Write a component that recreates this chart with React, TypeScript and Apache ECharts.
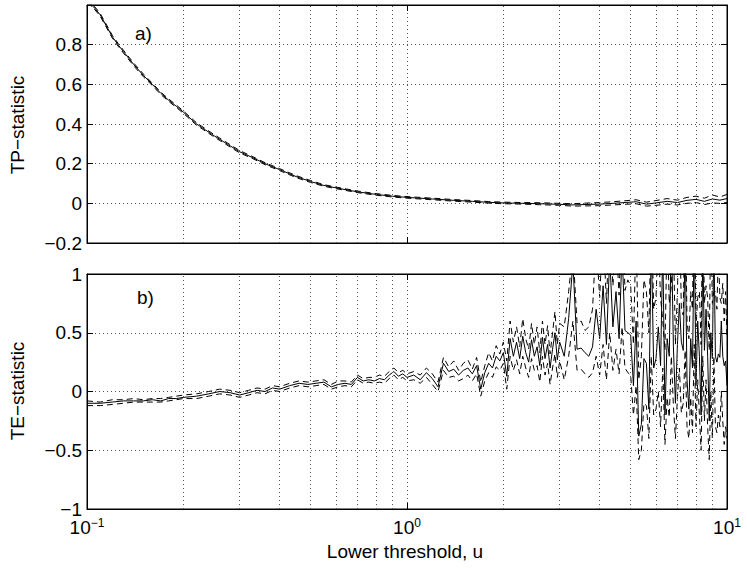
import React, { useEffect, useRef } from "react";
import * as echarts from "echarts";

// ---- Panel a) TP-statistic ----
const tpU = [
  0.10, 0.105, 0.11, 0.12, 0.125, 0.13, 0.14, 0.15, 0.16, 0.17,
  0.18, 0.19, 0.20, 0.22, 0.25, 0.28, 0.30, 0.33, 0.36, 0.40,
  0.45, 0.50, 0.55, 0.60, 0.70, 0.80, 0.90, 1.0, 1.2, 1.4,
  1.6, 1.8, 2.0, 2.3, 2.6, 3.0, 3.3, 3.6, 4.0, 4.4,
  4.8, 5.2, 5.6, 6.0, 6.5, 7.0, 7.5, 8.0, 8.5, 9.0,
  9.5, 10.0,
];
const tpMid = [
  1.02, 0.99, 0.95, 0.84, 0.80, 0.765, 0.70, 0.645, 0.60, 0.555,
  0.52, 0.49, 0.46, 0.40, 0.34, 0.29, 0.26, 0.23, 0.20, 0.17,
  0.135, 0.11, 0.09, 0.078, 0.058, 0.045, 0.036, 0.03, 0.022, 0.015,
  0.01, 0.005, 0.002, 0.0, -0.002, -0.005, -0.008, -0.006, -0.004, 0.0,
  0.004, 0.008, -0.004, 0.002, 0.01, 0.004, 0.015, 0.02, 0.01, 0.022,
  0.016, 0.024,
];
const tpHi = [
  1.028, 0.997, 0.957, 0.847, 0.807, 0.772, 0.707, 0.652, 0.606, 0.561,
  0.526, 0.496, 0.466, 0.406, 0.346, 0.296, 0.266, 0.235, 0.205, 0.175,
  0.14, 0.115, 0.094, 0.082, 0.062, 0.049, 0.04, 0.034, 0.026, 0.019,
  0.014, 0.009, 0.006, 0.004, 0.003, 0.0, -0.002, 0.001, 0.004, 0.008,
  0.013, 0.018, 0.006, 0.014, 0.024, 0.016, 0.03, 0.036, 0.026, 0.042,
  0.032, 0.045,
];
const tpLo = [
  1.012, 0.983, 0.943, 0.833, 0.793, 0.758, 0.693, 0.638, 0.594, 0.549,
  0.514, 0.484, 0.454, 0.394, 0.334, 0.284, 0.254, 0.225, 0.195, 0.165,
  0.13, 0.105, 0.086, 0.074, 0.054, 0.041, 0.032, 0.026, 0.018, 0.011,
  0.006, 0.001, -0.002, -0.004, -0.007, -0.01, -0.014, -0.013, -0.012, -0.008,
  -0.005, -0.002, -0.014, -0.01, -0.004, -0.008, 0.0, 0.004, -0.006, 0.002,
  0.0, 0.004,
];

// ---- Panel b) TE-statistic ----
const teU = [
  0.10, 0.11, 0.12, 0.13, 0.14, 0.15, 0.16, 0.17, 0.18, 0.19, 0.20,
  0.22, 0.24, 0.26, 0.28, 0.30, 0.32, 0.34, 0.36, 0.38, 0.40,
  0.43, 0.46, 0.49, 0.52, 0.55, 0.58, 0.61, 0.64, 0.67, 0.70,
  0.73, 0.76, 0.79, 0.82, 0.85, 0.88, 0.91, 0.94, 0.97, 1.00,
  1.05, 1.1, 1.15, 1.2, 1.25, 1.3, 1.35, 1.4, 1.45, 1.5,
  1.55, 1.6, 1.65, 1.7, 1.75, 1.8, 1.85, 1.9, 1.95, 2.0,
  2.05, 2.1, 2.15, 2.2, 2.25, 2.3, 2.35, 2.4, 2.45, 2.5,
  2.55, 2.6, 2.65, 2.7, 2.75, 2.8, 2.85, 2.9, 2.95, 3.0,
  3.1, 3.2, 3.3, 3.4, 3.5, 3.6, 3.7, 3.8, 3.9, 4.0,
  4.1, 4.2, 4.3, 4.4, 4.5, 4.6, 4.7, 4.8, 4.9, 5.0,
  5.1, 5.2, 5.3, 5.4, 5.5, 5.6, 5.7, 5.8, 5.9, 6.0,
  6.1, 6.2, 6.3, 6.4, 6.5, 6.6, 6.7, 6.8, 6.9, 7.0,
  7.1, 7.2, 7.3, 7.4, 7.5, 7.6, 7.7, 7.8, 7.9, 8.0,
  8.1, 8.2, 8.3, 8.4, 8.5, 8.6, 8.7, 8.8, 8.9, 9.0,
  9.1, 9.2, 9.3, 9.4, 9.5, 9.6, 9.7, 9.8, 9.9, 10.0,
];
const teMid = [
  -0.10, -0.10, -0.09, -0.08, -0.08, -0.08, -0.07, -0.08, -0.06, -0.06, -0.05,
  -0.04, -0.02, 0.00, -0.01, -0.03, -0.01, 0.01, 0.00, 0.03, 0.02,
  0.05, 0.07, 0.06, 0.07, 0.08, 0.04, 0.06, 0.07, 0.06, 0.12,
  0.09, 0.10, 0.09, 0.11, 0.10, 0.14, 0.17, 0.13, 0.15, 0.12,
  0.14, 0.10, 0.16, 0.11, 0.04, 0.24, 0.17, 0.19, 0.14, 0.18,
  0.20, 0.15, 0.22, 0.02, 0.16, 0.24, 0.20, 0.30, 0.26, 0.33,
  0.13, 0.45, 0.30, 0.42, 0.28, 0.47, 0.33, 0.25, 0.44, 0.30,
  0.38, 0.22, 0.46, 0.28, 0.40, 0.20, 0.36, 0.50, 0.27, 0.42,
  0.30, 0.62, 1.10, 0.36, 0.37, 0.33, 0.30, 0.38, 0.70, 0.45,
  0.90, 0.40, 1.15, 0.55, 0.85, 0.45, 1.20, 0.52, 0.50, 0.48,
  0.05, 0.60, -0.38, -0.28, 0.28, 0.24, -0.15, 1.30, 0.20, 0.28,
  0.55, 0.22, 1.25, -0.20, 0.45, 0.30, 1.40, 0.38, -0.10, 0.40,
  0.75, 0.42, 0.35, 1.30, 0.10, -0.15, 0.45, 0.20, 1.40, 0.05,
  0.60, 0.30, -0.20, 1.25, 0.35, 0.70, 0.30, -0.25, 0.50, 0.28,
  1.30, 0.30, 0.25, 0.32, 0.29, 0.60, 0.30, 0.22, 0.26, 0.05,
];
const teHi = [
  -0.08, -0.09, -0.07, -0.07, -0.06, -0.07, -0.06, -0.06, -0.05, -0.04, -0.03,
  -0.02, 0.00, 0.02, 0.01, -0.01, 0.01, 0.03, 0.02, 0.05, 0.04,
  0.07, 0.09, 0.08, 0.09, 0.10, 0.06, 0.09, 0.09, 0.08, 0.14,
  0.11, 0.12, 0.12, 0.14, 0.13, 0.17, 0.20, 0.16, 0.18, 0.15,
  0.17, 0.14, 0.20, 0.15, 0.08, 0.29, 0.21, 0.26, 0.18, 0.24,
  0.27, 0.19, 0.29, 0.08, 0.22, 0.33, 0.26, 0.39, 0.32, 0.42,
  0.26, 0.60, 0.42, 0.55, 0.38, 0.62, 0.45, 0.36, 0.58, 0.40,
  0.55, 0.33, 0.60, 0.40, 0.56, 0.32, 0.50, 0.68, 0.40, 0.58,
  0.55, 0.85, 1.20, 0.58, 0.60, 0.52, 0.55, 0.70, 1.30, 0.80,
  1.40, 0.75, 1.50, 0.90, 1.30, 0.82, 1.60, 0.86, 0.95, 0.90,
  0.40, 1.40, 0.10, 0.30, 0.95, 0.85, 0.50, 1.60, 0.70, 0.80,
  1.30, 0.80, 0.60, 0.35, 1.40, 0.75, 0.90, 1.30, 0.40, 0.85,
  1.60, 0.70, 0.65, 1.70, 0.60, 0.45, 0.85, 0.70, 1.80, 0.55,
  0.80, 0.85, 0.40, 1.70, 0.75, 0.90, 0.80, 0.35, 1.50, 0.75,
  0.85, 0.85, 0.70, 1.20, 0.80, 0.75, 0.92, 0.60, 0.85, 0.45,
];
const teLo = [
  -0.12, -0.12, -0.11, -0.10, -0.09, -0.09, -0.09, -0.09, -0.08, -0.07, -0.06,
  -0.06, -0.04, -0.02, -0.03, -0.05, -0.03, -0.01, -0.02, 0.01, 0.00,
  0.03, 0.05, 0.04, 0.05, 0.06, 0.02, 0.04, 0.05, 0.04, 0.10,
  0.07, 0.08, 0.07, 0.08, 0.07, 0.11, 0.14, 0.10, 0.12, 0.09,
  0.10, 0.07, 0.12, 0.06, 0.00, 0.18, 0.12, 0.13, 0.09, 0.11,
  0.14, 0.09, 0.15, -0.04, 0.09, 0.16, 0.12, 0.21, 0.18, 0.24,
  0.02, 0.30, 0.18, 0.27, 0.15, 0.30, 0.20, 0.12, 0.28, 0.18,
  0.22, 0.08, 0.30, 0.14, 0.24, 0.06, 0.20, 0.32, 0.12, 0.26,
  0.10, 0.30, 0.60, 0.18, 0.19, 0.15, 0.12, 0.16, 0.30, 0.14,
  0.40, 0.10, 0.50, 0.18, 0.36, 0.15, 0.55, 0.20, 0.16, 0.14,
  -0.20, 0.05, -0.58, -0.50, -0.10, -0.12, -0.40, 0.30, -0.20, -0.15,
  0.00, -0.30, 0.20, -0.45, -0.05, -0.22, 0.30, -0.12, -0.40, -0.05,
  0.20, -0.18, -0.10, 0.35, -0.30, -0.40, -0.05, -0.35, 0.40, -0.30,
  0.10, -0.20, -0.50, 0.30, -0.25, 0.10, -0.30, -0.58, 0.00, -0.40,
  0.30, -0.30, -0.35, -0.20, -0.30, 0.00, -0.25, -0.45, -0.30, -0.40,
];

// minor (2..9 per decade) grid positions of the log x axis
const minorGrid = [0.2, 0.3, 0.4, 0.5, 0.6, 0.7, 0.8, 0.9, 2, 3, 4, 5, 6, 7, 8, 9];

const FONT = "'Liberation Sans', Arial, Helvetica, sans-serif";
const FS = 19;
const DOT = { type: [1, 3] as any, color: "#555", width: 1 };

const minus = (s: string) => s.replace("-", "\u2212");
const pairs = (xs: number[], ys: number[]) => xs.map((x, i) => [x, ys[i]]);

function lineSeries(xs: number[], ys: number[], dashed: boolean, panel: number) {
  return {
    type: "line",
    xAxisIndex: panel * 2,
    yAxisIndex: panel * 2,
    data: pairs(xs, ys),
    showSymbol: false,
    symbol: "none",
    silent: true,
    clip: true,
    z: 3,
    lineStyle: { color: "#000", width: 1, type: dashed ? [6, 4] : "solid" },
  };
}

function minorSeries(panel: number) {
  return {
    type: "line",
    xAxisIndex: panel * 2,
    yAxisIndex: panel * 2,
    data: [],
    silent: true,
    z: 1,
    markLine: {
      silent: true,
      symbol: ["none", "none"],
      label: { show: false },
      lineStyle: DOT,
      animation: false,
      data: minorGrid.map((v) => ({ xAxis: v })),
    },
  };
}

function xAxes(gridIndex: number, labels: boolean) {
  const base = {
    gridIndex,
    type: "log",
    logBase: 10,
    min: 0.1,
    max: 10,
    axisLine: { show: true, onZero: false, lineStyle: { color: "#000", width: 1 } },
    axisTick: { show: true, inside: true, length: 6, lineStyle: { color: "#000" } },
  };
  return [
    {
      ...base,
      position: "bottom",
      splitLine: { show: true, lineStyle: DOT },
      axisLabel: {
        show: labels,
        margin: 8,
        formatter: (v: number) => {
          const e = Math.round(Math.log10(v));
          return `{b|10}{s|${e < 0 ? "\u2212" + -e : e}}`;
        },
        rich: {
          b: { fontSize: FS, fontFamily: FONT, color: "#000", lineHeight: 20, verticalAlign: "bottom" },
          s: { fontSize: 12, fontFamily: FONT, color: "#000", lineHeight: 12, verticalAlign: "top" },
        },
      },
    },
    { ...base, position: "top", splitLine: { show: false }, axisLabel: { show: false } },
  ];
}

function yAxes(gridIndex: number, min: number, max: number, interval: number, hideMax: boolean) {
  const base = {
    gridIndex,
    type: "value",
    min,
    max,
    interval,
    axisLine: { show: true, onZero: false, lineStyle: { color: "#000", width: 1 } },
    axisTick: { show: true, inside: true, length: 6, lineStyle: { color: "#000" } },
  };
  return [
    {
      ...base,
      position: "left",
      splitLine: { show: true, lineStyle: DOT },
      axisLabel: {
        show: true,
        margin: 5,
        color: "#000",
        fontSize: FS,
        fontFamily: FONT,
        formatter: (v: number) => {
          if (hideMax && Math.abs(v - max) < 1e-9) return "";
          return minus(String(Math.round(v * 10) / 10));
        },
      },
    },
    { ...base, position: "right", splitLine: { show: false }, axisLabel: { show: false } },
  ];
}

export default function App() {
  const ref = useRef<HTMLDivElement>(null);
  useEffect(() => {
    if (!ref.current) return;
    const chart = echarts.init(ref.current, null, { renderer: "svg" });
    const option: any = {
      animation: false,
      backgroundColor: "#fff",
      grid: [
        { left: 87, top: 5, width: 640, height: 238, show: true, borderColor: "#000", borderWidth: 1, backgroundColor: "transparent", outerBoundsMode: "none" },
        { left: 87, top: 274, width: 640, height: 235, show: true, borderColor: "#000", borderWidth: 1, backgroundColor: "transparent", outerBoundsMode: "none" },
      ],
      xAxis: [...xAxes(0, false), ...xAxes(1, true)],
      yAxis: [...yAxes(0, -0.2, 1, 0.2, true), ...yAxes(1, -1, 1, 0.5, false)],
      series: [
        minorSeries(0),
        lineSeries(tpU, tpLo, true, 0),
        lineSeries(tpU, tpHi, true, 0),
        lineSeries(tpU, tpMid, false, 0),
        minorSeries(1),
        lineSeries(teU, teLo, true, 1),
        lineSeries(teU, teHi, true, 1),
        lineSeries(teU, teMid, false, 1),
      ],
      graphic: [
        { type: "text", x: 135, y: 33, style: { text: "a)", font: `${FS}px ${FONT}`, fill: "#000", verticalAlign: "middle" } },
        { type: "text", x: 137, y: 297, style: { text: "b)", font: `${FS}px ${FONT}`, fill: "#000", verticalAlign: "middle" } },
        { type: "text", x: 17, y: 125, rotation: Math.PI / 2, style: { text: "TP\u2212statistic", font: `${FS}px ${FONT}`, fill: "#000", align: "center", verticalAlign: "middle" } },
        { type: "text", x: 17, y: 391, rotation: Math.PI / 2, style: { text: "TE\u2212statistic", font: `${FS}px ${FONT}`, fill: "#000", align: "center", verticalAlign: "middle" } },
        { type: "text", x: 405, y: 551, style: { text: "Lower threshold, u", font: `${FS}px ${FONT}`, fill: "#000", align: "center", verticalAlign: "middle" } },
      ],
    };
    chart.setOption(option);
    return () => chart.dispose();
  }, []);
  return (
    <div
      ref={ref}
      style={{ position: "fixed", left: 0, top: 0, width: 747, height: 568, background: "#fff" }}
    />
  );
}
